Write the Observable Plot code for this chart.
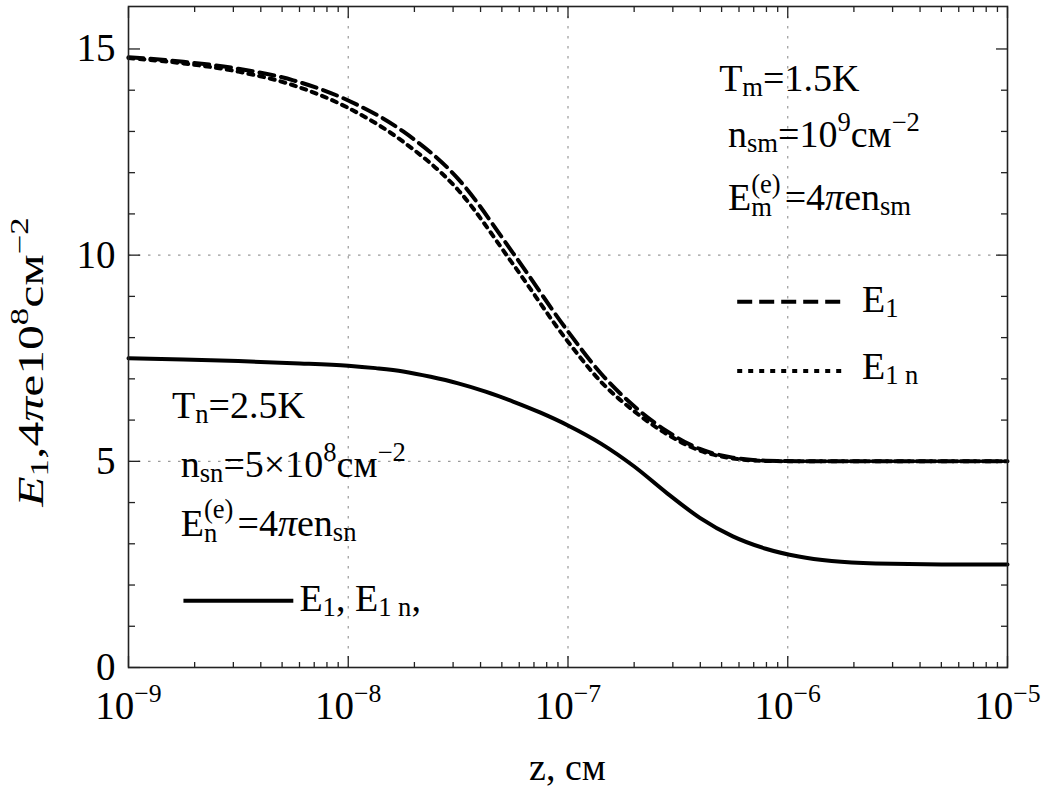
<!DOCTYPE html>
<html>
<head>
<meta charset="utf-8">
<script src="https://cdn.jsdelivr.net/npm/d3@7"></script>
<script src="https://cdn.jsdelivr.net/npm/@observablehq/plot@0.6"></script>
<style>
  html, body { margin: 0; padding: 0; background: #fff; }
  #chart svg { display: block; }
</style>
</head>
<body>
<div id="chart"></div>
<script>
// ---- data ----
// log10 of z (cm) for the upper pair of curves
const logZUpper = [-9.0, -8.75, -8.5, -8.25, -8.0, -7.75, -7.5, -7.25, -7.0, -6.85, -6.7, -6.55, -6.4, -6.25, -6.1, -5.9, -5.5, -5.0];
// E1 (dashed), T_m = 1.5 K
const e1Dashed = [14.80, 14.69, 14.52, 14.24, 13.75, 13.00, 11.85, 10.05, 8.15, 7.13, 6.34, 5.73, 5.30, 5.09, 5.015, 5.00, 5.00, 5.00];
// E1n (dotted), T_m = 1.5 K
const e1nDotted = [14.78, 14.65, 14.45, 14.12, 13.57, 12.75, 11.58, 9.78, 7.90, 6.93, 6.22, 5.66, 5.26, 5.07, 5.01, 5.00, 5.00, 5.00];
// log10 of z for the lower (solid) curve
const logZLower = [-9.0, -8.75, -8.5, -8.25, -8.0, -7.875, -7.75, -7.625, -7.5, -7.375, -7.25, -7.125, -7.0, -6.85, -6.7, -6.55, -6.4, -6.25, -6.1, -5.95, -5.8, -5.6, -5.3, -5.0];
// E1, E1n (solid), T_n = 2.5 K
const e1Solid = [7.50, 7.47, 7.43, 7.38, 7.32, 7.26, 7.18, 7.05, 6.89, 6.69, 6.45, 6.18, 5.87, 5.43, 4.88, 4.23, 3.63, 3.18, 2.88, 2.69, 2.58, 2.52, 2.50, 2.50];

// axes
const xDomain = [1e-9, 1e-5];
const yDomain = [0, 16.03];
const xMajorExp = [-9, -8, -7, -6, -5];
const xGridExp = [-8, -7, -6];
const xMinorMult = [2, 3, 4, 5, 6, 7, 8, 9];
const yMajor = [0, 5, 10, 15];
const yGrid = [5, 10];
const yMinor = [1, 2, 3, 4, 6, 7, 8, 9, 11, 12, 13, 14];

// legend samples  [logZ start, logZ end, y]
const legendDashed = [[-6.23, -5.74, 8.87]];
const legendDotted = [[-6.23, -5.74, 7.19]];
const legendSolid = [[-8.75, -8.25, 1.62]];

// annotation anchors [logZ, y] and rich-text parts
const annotations = [
  {pos: [-6.31, 13.97], parts: [["T"], ["m", "sub"], ["=1.5K"]]},
  {pos: [-6.27, 12.62], parts: [["n"], ["sm", "sub"], ["=10"], ["9", "sup"], ["см"], ["−2", "sup"]]},
  {pos: [-6.27, 11.08], parts: [["E"], {stack: ["(e)", "m"]}, ["=4"], ["π", "i"], ["en"], ["sm", "sub"]]},
  {pos: [-5.66, 8.60], parts: [["E"], ["1", "sub"]]},
  {pos: [-5.66, 6.98], parts: [["E"], ["1 n", "sub"]]},
  {pos: [-8.80, 6.03], parts: [["T"], ["n", "sub"], ["=2.5K"]]},
  {pos: [-8.76, 4.60], parts: [["n"], ["sn", "sub"], ["=5×10"], ["8", "sup"], ["см"], ["−2", "sup"]]},
  {pos: [-8.76, 3.18], parts: [["E"], {stack: ["(e)", "n"]}, ["=4"], ["π", "i"], ["en"], ["sn", "sub"]]},
  {pos: [-8.22, 1.36], parts: [["E"], ["1", "sub"], [", E"], ["1 n", "sub"], [","]]}
];
const yLabelParts = [["E", "i"], ["1", "sub"], [",4"], ["π", "i"], ["e10"], ["8", "sup"], ["см"], ["−2", "sup"]];
const xLabelText = "z, см";

// ---- build tables ----
const dashedRows = logZUpper.map((lz, i) => ({z: 10 ** lz, v: e1Dashed[i]}));
const dottedRows = logZUpper.map((lz, i) => ({z: 10 ** lz, v: e1nDotted[i]}));
const solidRows = logZLower.map((lz, i) => ({z: 10 ** lz, v: e1Solid[i]}));
const segRows = a => a.map(([a0, a1, y]) => ({x1: 10 ** a0, x2: 10 ** a1, y}));

const xMajor = xMajorExp.map(e => 10 ** e);
const xGrid = xGridExp.map(e => 10 ** e);
const xMinor = xMajorExp.slice(0, -1).flatMap(e => xMinorMult.map(m => m * 10 ** e));

const FONT = "'Liberation Serif', 'Times New Roman', serif";
const TICK_FS = 39;
const TEXT_FS = 38;
const LW = 4;

const tickStyle = {stroke: "#222", strokeWidth: 1.3, tickFormat: () => "", label: null};

const plot = Plot.plot({
  width: 1049,
  height: 790,
  marginLeft: 128,
  marginRight: 42,
  marginTop: 6,
  marginBottom: 123,
  x: {type: "log", domain: xDomain},
  y: {domain: yDomain},
  style: {fontFamily: FONT, background: "white", color: "black"},
  marks: [
    Plot.gridX(xGrid, {stroke: "#9a9a9a", strokeOpacity: 1, strokeWidth: 1.2, strokeDasharray: "2.5,7.5"}),
    Plot.gridY(yGrid, {stroke: "#9a9a9a", strokeOpacity: 1, strokeWidth: 1.2, strokeDasharray: "2.5,7.5"}),
    // inward ticks
    Plot.axisX(xMajor, {anchor: "bottom", tickSize: -11, ...tickStyle}),
    Plot.axisX(xMinor, {anchor: "bottom", tickSize: -5, ...tickStyle}),
    Plot.axisX(xMajor, {anchor: "top", tickSize: -11, ...tickStyle}),
    Plot.axisX(xMinor, {anchor: "top", tickSize: -5, ...tickStyle}),
    Plot.axisY(yMajor, {anchor: "left", tickSize: -12, ...tickStyle}),
    Plot.axisY(yMinor, {anchor: "left", tickSize: -7, ...tickStyle}),
    Plot.axisY(yMajor, {anchor: "right", tickSize: -12, ...tickStyle}),
    Plot.axisY(yMinor, {anchor: "right", tickSize: -7, ...tickStyle}),
    // tick labels
    Plot.axisX(xMajor, {anchor: "bottom", tickSize: 0, tickPadding: 24, fontSize: TICK_FS, label: null,
      tickFormat: d => "10^" + Math.round(Math.log10(d))}),
    Plot.axisY(yMajor, {anchor: "left", tickSize: 0, tickPadding: 13, fontSize: TICK_FS, label: null,
      tickFormat: d => String(d)}),
    // curves
    Plot.line(solidRows, {x: "z", y: "v", stroke: "black", strokeWidth: LW, curve: "monotone-x"}),
    Plot.line(dottedRows, {x: "z", y: "v", stroke: "black", strokeWidth: LW, strokeDasharray: "5,6", curve: "monotone-x"}),
    Plot.line(dashedRows, {x: "z", y: "v", stroke: "black", strokeWidth: LW, strokeDasharray: "15,7", curve: "monotone-x"}),
    // legend samples
    Plot.link(segRows(legendDashed), {x1: "x1", x2: "x2", y1: "y", y2: "y", stroke: "black", strokeWidth: LW, strokeDasharray: "15,7"}),
    Plot.link(segRows(legendDotted), {x1: "x1", x2: "x2", y1: "y", y2: "y", stroke: "black", strokeWidth: LW, strokeDasharray: "5,6"}),
    Plot.link(segRows(legendSolid), {x1: "x1", x2: "x2", y1: "y", y2: "y", stroke: "black", strokeWidth: LW}),
    Plot.frame({stroke: "#222", strokeWidth: 1.6})
  ]
});

document.getElementById("chart").appendChild(plot);

const svg = d3.select(plot);
const xs = plot.scale("x"), ys = plot.scale("y");

// superscript x tick labels
svg.selectAll('g[aria-label="x-axis tick label"] text').each(function () {
  const t = d3.select(this);
  const s = t.text();
  if (!s.includes("^")) return;
  const [base, exp] = s.split("^");
  t.text(null);
  t.append("tspan").text(base);
  t.append("tspan").attr("dy", -17).attr("font-size", TICK_FS * 0.66).text(exp.replace("-", "−"));
});

// Times / Liberation Serif advance widths (em) for the stacked scripts
const ADV = {"(": 0.333, ")": 0.333, "e": 0.444, "m": 0.778, "n": 0.5};
const estWidth = (s, fs) => [...s].reduce((a, c) => a + (ADV[c] ?? 0.5), 0) * fs;

// rich text: one <text> with flowing tspans
function rich(g, x, y, parts, fs, anchor) {
  const t = g.append("text")
    .attr("x", x).attr("y", y)
    .attr("font-family", FONT)
    .attr("font-size", fs)
    .attr("fill", "black")
    .attr("text-anchor", anchor || "start")
    .style("white-space", "pre");
  const SUB = fs * 0.13, SUP = -fs * 0.42, small = fs * 0.7;
  let cur = 0, pendingDx = 0;
  for (const p of parts) {
    if (p.stack) {
      const w0 = estWidth(p.stack[0], small), w1 = estWidth(p.stack[1], small);
      const up = SUP - fs * 0.04, down = SUB + fs * 0.03;
      t.append("tspan").attr("dy", up - cur).attr("dx", pendingDx).attr("font-size", small).text(p.stack[0]);
      t.append("tspan").attr("dy", down - up).attr("dx", -w0).attr("font-size", small).text(p.stack[1]);
      cur = down;
      pendingDx = Math.max(w0, w1) - w1 + 4;
    } else {
      const kind = p[1] || "";
      const sub = kind.includes("sub"), sup = kind.includes("sup");
      const off = sub ? SUB : sup ? SUP : 0;
      const ts = t.append("tspan").attr("dy", off - cur).attr("dx", pendingDx).text(p[0]);
      if (sub || sup) ts.attr("font-size", small);
      if (kind.includes("i")) ts.attr("font-style", "italic");
      cur = off;
      pendingDx = 0;
    }
  }
  return t;
}

const ann = svg.append("g").attr("aria-label", "annotations");
for (const a of annotations) {
  rich(ann, xs.apply(10 ** a.pos[0]), ys.apply(a.pos[1]), a.parts, TEXT_FS);
}

// y label (rotated, elongated along its length as in the reference)
const yl = svg.append("g").attr("transform", `translate(43, 362) rotate(-90) scale(1.38, 1)`);
rich(yl, 0, 0, yLabelParts, 36, "middle");

// x label
svg.append("text")
  .attr("x", xs.apply(Math.sqrt(xDomain[0] * xDomain[1])))
  .attr("y", 780)
  .attr("text-anchor", "middle")
  .attr("font-family", FONT)
  .attr("font-size", 38)
  .attr("fill", "black")
  .text(xLabelText);
</script>
</body>
</html>
